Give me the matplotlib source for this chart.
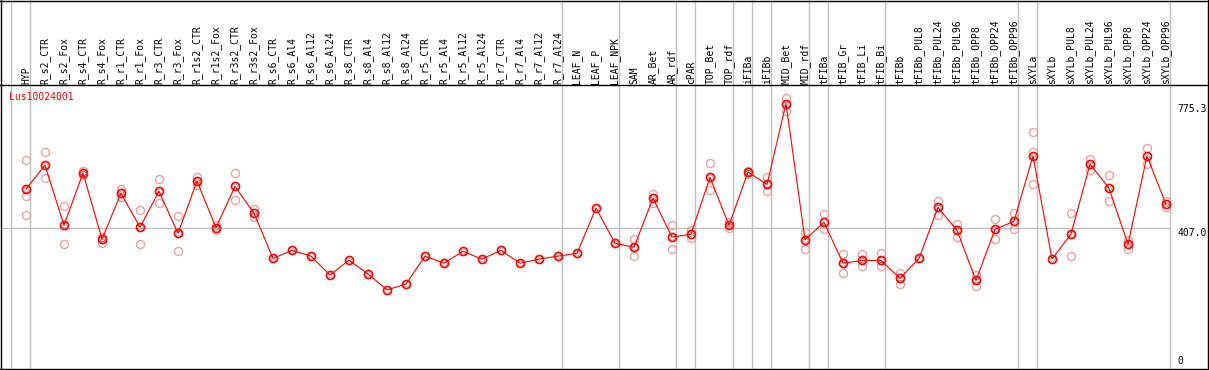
"""
Expression profile of Lus10024001 across tissue / treatment samples.
Mean per sample (dark ring + line) with individual replicates (light rings).
"""

import matplotlib
matplotlib.use("Agg")
import matplotlib.pyplot as plt
import matplotlib.transforms as mtransforms
from matplotlib.lines import Line2D


# ---------------------------------------------------------------------------
# Data
# ---------------------------------------------------------------------------

GENE = "Lus10024001"

SAMPLES = [
    "HYP",
    "R_s2_CTR", "R_s2_Fox", "R_s4_CTR", "R_s4_Fox", "R_r1_CTR", "R_r1_Fox",
    "R_r3_CTR", "R_r3_Fox", "R_r1s2_CTR", "R_r1s2_Fox", "R_r3s2_CTR", "R_r3s2_Fox",
    "R_s6_CTR", "R_s6_Al4", "R_s6_Al12", "R_s6_Al24",
    "R_s8_CTR", "R_s8_Al4", "R_s8_Al12", "R_s8_Al24",
    "R_r5_CTR", "R_r5_Al4", "R_r5_Al12", "R_r5_Al24",
    "R_r7_CTR", "R_r7_Al4", "R_r7_Al12", "R_r7_Al24",
    "LEAF_N", "LEAF_P", "LEAF_NPK",
    "SAM", "AR_Bet", "AR_rdf",
    "cPAR",
    "TOP_Bet", "TOP_rdf",
    "iFIBa",
    "iFIBb",
    "MID_Bet", "MID_rdf",
    "tFIBa",
    "tFIB_Gr", "tFIB_Li", "tFIB_Bi",
    "tFIBb", "tFIBb_PUL8", "tFIBb_PUL24", "tFIBb_PUL96",
    "tFIBb_OPP8", "tFIBb_OPP24", "tFIBb_OPP96",
    "sXYLa",
    "sXYLb", "sXYLb_PUL8", "sXYLb_PUL24", "sXYLb_PUL96",
    "sXYLb_OPP8", "sXYLb_OPP24", "sXYLb_OPP96",
]

MEANS = [
    522,
    593, 415, 570, 374, 510, 409,
    516, 391, 546, 408, 530, 451,
    317, 341, 324, 268,
    312, 271, 224, 241,
    324, 303, 338, 315,
    341, 303, 315, 324,
    332, 466, 362,
    350, 495, 380,
    389,
    557, 415,
    573,
    536,
    775.3, 372,
    424,
    303, 311, 311,
    258, 317, 468, 400,
    252, 403, 427,
    620,
    315, 389, 596, 525,
    359, 620, 477,
]

REPLICATES = [
    [609, 503, 445],
    [631, 556], [471, 359], [576, 564], [381, 363], [522, 498], [460, 359],
    [551, 480], [442, 338], [557, 533], [416, 400], [569, 489], [464, 440],
    [], [], [], [],
    [], [], [], [],
    [], [], [], [],
    [], [], [], [],
    [], [], [],
    [374, 351, 325], [509, 480], [416, 344],
    [400, 377],
    [599, 520], [425, 407],
    [577, 567],
    [557, 516],
    [792, 754], [396, 345],
    [448, 403],
    [329, 273], [331, 295], [333, 295],
    [274, 241], [], [487, 446], [419, 380],
    [268, 236], [434, 375], [451, 403],
    [690, 631, 536],
    [], [451, 324], [610, 579], [563, 486],
    [373, 344], [644, 596], [487, 468],
]

# sample index after which a group separator is drawn (-1 = before first)
GROUP_ENDS = [-1, 0, 28, 31, 34, 35, 37, 38, 39, 41, 42, 45, 52, 53, 60]

Y_MAX = 775.3
Y_MID = 407.0


# ---------------------------------------------------------------------------
# Plot
# ---------------------------------------------------------------------------

W, H = 1209, 370
fig = plt.figure(figsize=(W / 100, H / 100), dpi=100)
ax = fig.add_axes([0, 0, 1, 1])
ax.axis("off")

# sample i sits at pixel 26 + 19*i ; value v at pixel row 365.6 - 0.338*v
ax.set_xlim(-26 / 19, (W - 26) / 19)
ax.set_ylim((365.6 - H) / 0.338, 365.6 / 0.338)

mono = "DejaVu Sans Mono"
grey = "#c0c0c0"
x_in_fig = mtransforms.blended_transform_factory(fig.transFigure, ax.transData)
y_in_fig = mtransforms.blended_transform_factory(ax.transData, fig.transFigure)

# group separators
for g in GROUP_ENDS:
    ax.axvline(g + 0.22, color=grey, linewidth=1.0, zorder=1)

right_edge = GROUP_ENDS[-1] + 0.22
ax.hlines(Y_MID, ax.get_xlim()[0], right_edge, color=grey, linewidth=1.0, zorder=1)

# frame and header rule
for (x0, y0, x1, y1) in [(0, 0.5, W, 0.5), (0, 85, W, 85), (0, 369, W, 369),
                         (1, 0, 1, H), (1208, 0, 1208, H)]:
    fig.add_artist(Line2D([x0 / W, x1 / W], [1 - y0 / H, 1 - y1 / H],
                          transform=fig.transFigure, color="black", linewidth=1.0))

# replicates
for i, reps in enumerate(REPLICATES):
    if reps:
        ax.plot([i] * len(reps), reps, linestyle="none", marker="o",
                markersize=5.8, markerfacecolor="none",
                markeredgecolor="#ee9a9a", markeredgewidth=0.9, zorder=2)

# mean profile
xs = list(range(len(SAMPLES)))
ax.plot(xs, MEANS, color="red", linewidth=0.8, zorder=3)
ax.plot(xs, MEANS, linestyle="none", marker="o", markersize=5.8,
        markerfacecolor="none", markeredgecolor="red", markeredgewidth=1.2, zorder=4)
ax.plot(xs, MEANS, linestyle="none", marker="o", markersize=3.6,
        markerfacecolor="none", markeredgecolor="black", markeredgewidth=0.35,
        alpha=0.5, zorder=5)

# sample labels in header
for i, name in enumerate(SAMPLES):
    ax.text(i, 1 - 84 / H, name, transform=y_in_fig, rotation=90,
            ha="center", va="bottom", fontsize=7.0, family=mono)

# gene name
fig.text(9 / W, 1 - 97 / H, GENE, color="red", fontsize=7.0, family=mono,
         ha="left", va="center")

# value labels on the right
ax.text(1177 / W, Y_MAX, f"{Y_MAX:.1f}", transform=x_in_fig,
        fontsize=7.0, family=mono, ha="left", va="top")
ax.text(1177 / W, Y_MID, f"{Y_MID:.1f}", transform=x_in_fig,
        fontsize=7.0, family=mono, ha="left", va="top")
ax.text(1177 / W, 0, "0", transform=x_in_fig,
        fontsize=7.0, family=mono, ha="left", va="bottom")

fig.savefig("out.png", dpi=100)
